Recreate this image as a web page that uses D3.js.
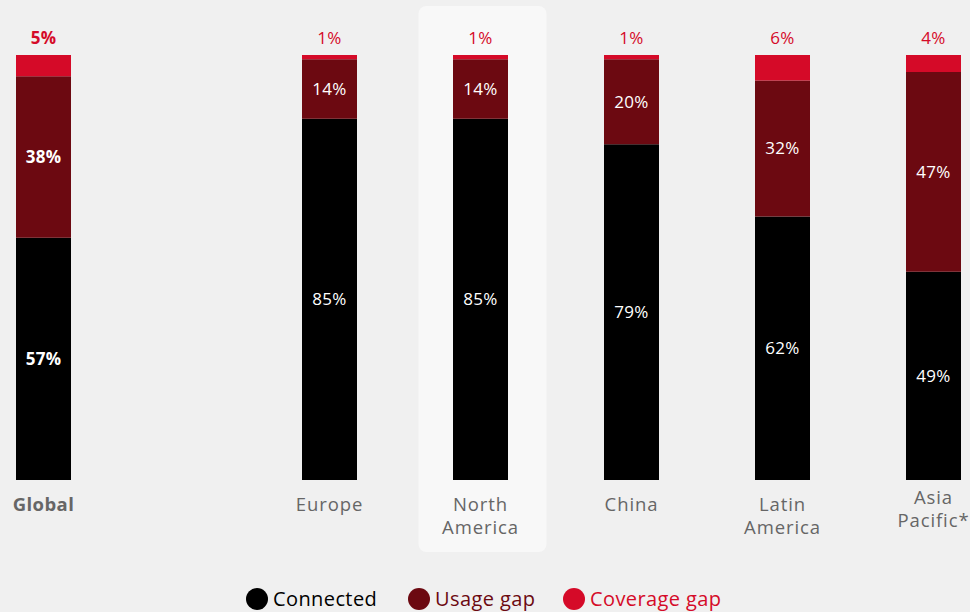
<!DOCTYPE html>
<html>
<head>
<meta charset="utf-8">
<script src="https://cdn.jsdelivr.net/npm/d3@7"></script>
<style>
  html, body { margin: 0; padding: 0; background: #f0f0f0; }
  svg { display: block; font-family: "Open Sans", "Noto Sans", sans-serif; }
</style>
</head>
<body>
<svg id="chart" width="970" height="612"></svg>
<script>
// Share of population by connectivity status
const categories = ["Global", "Europe", "North America", "China", "Latin America", "Asia Pacific*"];
const connected   = [57, 85, 85, 79, 62, 49];
const usageGap    = [38, 14, 14, 20, 32, 47];
const coverageGap = [5, 1, 1, 1, 6, 4];
const seriesNames = ["Connected", "Usage gap", "Coverage gap"];
const highlighted = "North America";

const colors = { "Connected": "#000000", "Usage gap": "#6c0911", "Coverage gap": "#d50a28" };

const svg = d3.select("#chart");
const barW = 55;

const rows = categories.map((c, i) => ({
  category: c,
  "Connected": connected[i],
  "Usage gap": usageGap[i],
  "Coverage gap": coverageGap[i]
}));

const stacked = d3.stack().keys(seriesNames)(rows);

// Global sits apart on the left; regions are evenly spaced
const regions = categories.slice(1);
const xRegion = d3.scalePoint().domain(regions).range([329.5, 933.5]);
const xCenter = c => c === "Global" ? 43.5 : xRegion(c);

const y = d3.scaleLinear().domain([0, 100]).range([480, 55]);

// Highlight panel
const hx = xCenter(highlighted);
svg.append("rect")
  .attr("x", hx - 62).attr("y", 6)
  .attr("width", 128).attr("height", 546)
  .attr("rx", 8).attr("fill", "#f8f8f8");

// Bars
const layer = svg.append("g").selectAll("g")
  .data(stacked).join("g")
  .attr("fill", d => colors[d.key]);

layer.selectAll("rect")
  .data(d => d.map(p => ({ p, key: d.key })))
  .join("rect")
  .attr("x", d => xCenter(d.p.data.category) - barW / 2)
  .attr("y", d => y(d.p[1]))
  .attr("width", barW)
  .attr("height", d => y(d.p[0]) - y(d.p[1]));

// Values inside the connected and usage-gap segments
stacked.slice(0, 2).forEach(s => {
  svg.append("g").selectAll("text")
    .data(s).join("text")
    .attr("x", d => xCenter(d.data.category))
    .attr("y", d => (y(d[0]) + y(d[1])) / 2)
    .attr("dy", "0.35em")
    .attr("text-anchor", "middle")
    .attr("fill", "#ffffff")
    .attr("font-size", 17)
    .attr("letter-spacing", 0.3)
    .attr("font-weight", d => d.data.category === "Global" ? 700 : 400)
    .text(d => (d[1] - d[0]) + "%");
});

// Coverage gap values above each bar
const coverageLayer = stacked[2];
svg.append("g").selectAll("text")
  .data(coverageLayer).join("text")
  .attr("x", d => xCenter(d.data.category))
  .attr("y", d => y(d[1]) - 11)
  .attr("text-anchor", "middle")
  .attr("fill", colors["Coverage gap"])
  .attr("font-size", 17)
  .attr("letter-spacing", 0.3)
  .attr("font-weight", d => d.data.category === "Global" ? 700 : 400)
  .text(d => (d[1] - d[0]) + "%");

// Category labels
const labelLines = {
  "Global": ["Global"],
  "Europe": ["Europe"],
  "North America": ["North", "America"],
  "China": ["China"],
  "Latin America": ["Latin", "America"],
  "Asia Pacific*": ["Asia", "Pacific*"]
};
categories.forEach(c => {
  const t = svg.append("text")
    .attr("x", xCenter(c))
    .attr("y", c === "Asia Pacific*" ? 504 : 511)
    .attr("text-anchor", "middle")
    .attr("fill", "#666666")
    .attr("font-size", 18.5)
    .attr("letter-spacing", c === "Global" ? 0.4 : 0.9)
    .attr("font-weight", c === "Global" ? 700 : 400);
  labelLines[c].forEach((line, i) => {
    t.append("tspan").attr("x", xCenter(c)).attr("dy", i === 0 ? 0 : 23).text(line);
  });
});

// Legend
const legendX = [257, 419, 574];
const legend = svg.append("g").selectAll("g")
  .data(seriesNames).join("g")
  .attr("transform", (d, i) => `translate(${legendX[i]},599)`);
legend.append("circle").attr("r", 11).attr("fill", d => colors[d]);
legend.append("text")
  .attr("x", 16).attr("dy", "0.35em")
  .attr("font-size", 20)
  .attr("letter-spacing", 0.4)
  .attr("fill", d => d === "Connected" ? "#000000" : colors[d])
  .text(d => d);
</script>
</body>
</html>
